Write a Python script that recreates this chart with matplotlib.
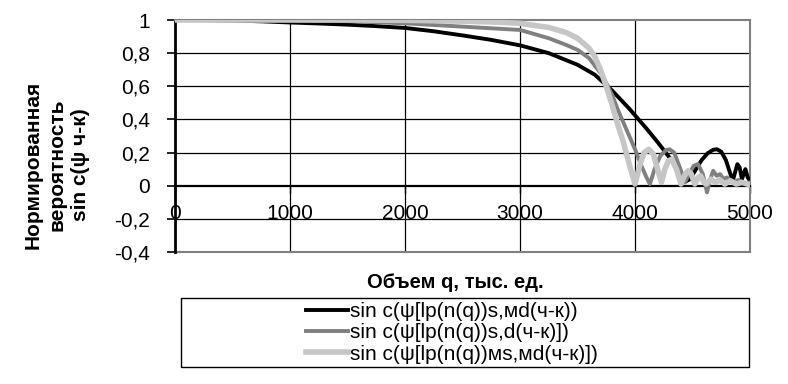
import matplotlib as mpl
mpl.use('Agg')
import matplotlib.pyplot as plt
from matplotlib.patches import Rectangle

plt.rcParams['font.family'] = ['Liberation Sans', 'DejaVu Sans']

# black series
q_black = [0, 250, 500, 750, 1000, 1250, 1500, 1750, 2000, 2250, 2500, 2750, 3000,
           3250, 3500, 3650, 3800, 3950, 4100, 4200, 4300, 4380, 4440, 4480, 4530,
           4580, 4630, 4680, 4713, 4750, 4790, 4830, 4850, 4870, 4890, 4910, 4930,
           4945, 4960, 4980, 5000]
v_black = [1.0, 0.999, 0.997, 0.992, 0.985, 0.979, 0.972, 0.963, 0.952, 0.932, 0.907, 0.88, 0.847,
           0.80, 0.73, 0.67, 0.575, 0.465, 0.345, 0.26, 0.17, 0.09, 0.025, 0.04, 0.10,
           0.155, 0.195, 0.217, 0.22, 0.205, 0.155, 0.07, 0.03, 0.08, 0.13, 0.11, 0.04,
           0.07, 0.10, 0.05, 0.03]

# gray series
q_gray = [0, 500, 1000, 1500, 2000, 2250, 2500, 2750, 3000, 3250, 3400, 3500, 3600,
          3700, 3750, 3800, 3850, 3900, 3950, 4000, 4050, 4100, 4130, 4170, 4220,
          4270, 4300, 4340, 4390, 4435, 4470, 4510, 4548, 4590, 4626, 4650, 4680,
          4710, 4740, 4770, 4800, 4850, 4900, 4950, 5000]
v_gray = [1.0, 1.0, 0.998, 0.993, 0.98, 0.97, 0.96, 0.95, 0.94, 0.89, 0.85, 0.82, 0.77,
          0.68, 0.62, 0.55, 0.46, 0.38, 0.30, 0.22, 0.13, 0.05, 0.01, 0.10, 0.18,
          0.215, 0.22, 0.20, 0.11, 0.02, 0.07, 0.12, 0.13, 0.07, -0.04, 0.03, 0.09,
          0.06, 0.07, 0.04, 0.05, 0.02, 0.035, 0.015, 0.02]

# light gray series
q_light = [0, 500, 1000, 1500, 2000, 2500, 2750, 3000, 3250, 3400, 3500, 3600, 3650,
           3700, 3750, 3800, 3850, 3900, 3950, 4000, 4040, 4080, 4120, 4160, 4200,
           4230, 4260, 4290, 4320, 4360, 4400, 4430, 4460, 4490, 4520, 4550, 4570,
           4600, 4620, 4660, 4700, 4740, 4780, 4830, 4880, 4930, 5000]
v_light = [1.0, 1.0, 1.0, 1.0, 0.998, 0.993, 0.988, 0.98, 0.955, 0.925, 0.89, 0.83, 0.78,
           0.70, 0.60, 0.49, 0.37, 0.26, 0.13, 0.01, 0.12, 0.20, 0.22, 0.19, 0.09,
           0.02, 0.10, 0.15, 0.16, 0.10, 0.01, 0.06, 0.09, 0.07, 0.01, 0.05, 0.06,
           0.02, 0.01, 0.04, 0.02, 0.035, 0.01, 0.03, 0.01, 0.02, 0.005]

labels = ['sin c(ψ[lp(n(q))s,мd(ч-к))',
          'sin c(ψ[lp(n(q))s,d(ч-к)])',
          'sin c(ψ[lp(n(q))мs,мd(ч-к)])']

x_ticks = [0, 1000, 2000, 3000, 4000, 5000]
y_ticks = [-0.4, -0.2, 0, 0.2, 0.4, 0.6, 0.8, 1]
y_labels = ['-0,4', '-0,2', '0', '0,2', '0,4', '0,6', '0,8', '1']

W, H = 788, 384
fig = plt.figure(figsize=(W / 100, H / 100), dpi=100)
ax = fig.add_axes([175 / W, 1 - 252 / H, (750 - 175) / W, (252 - 20) / H])

ax.set_xlim(0, 5000)
ax.set_ylim(-0.4, 1)

for yv in y_ticks[1:-1]:
    if yv != 0:
        ax.axhline(yv, color='black', lw=0.9, zorder=1)
for xv in x_ticks[1:-1]:
    ax.axvline(xv, color='black', lw=0.9, zorder=1)

l1, = ax.plot(q_black, v_black, color='black', lw=2.8, solid_joinstyle='round', zorder=3)
l2, = ax.plot(q_gray, v_gray, color='#808080', lw=2.8, solid_joinstyle='round', zorder=4)
l3, = ax.plot(q_light, v_light, color='#c6c6c6', lw=4, solid_joinstyle='round', zorder=5)

ax.spines['bottom'].set_position(('data', 0))
ax.spines['bottom'].set_color('black')
ax.spines['bottom'].set_linewidth(1.6)
ax.spines['left'].set_color('black')
ax.spines['left'].set_linewidth(2)
for s in ['top', 'right']:
    ax.spines[s].set_color('#808080')
    ax.spines[s].set_linewidth(1.5)
ax.axhline(-0.4, color='#808080', lw=1.5, clip_on=False, zorder=2)

ax.set_xticks(x_ticks)
ax.set_xticklabels([str(x) for x in x_ticks])
ax.set_yticks(y_ticks)
ax.set_yticklabels(y_labels)
ax.tick_params(axis='x', direction='out', length=5, width=1, pad=8, labelsize=15)
ax.tick_params(axis='y', direction='out', length=6, width=1.2, pad=12, labelsize=15)

fig.text(57 / W, 1 - 165 / H, 'Нормированная\nвероятность\nsin c(ψ ч-к)',
         rotation=90, ha='center', va='center', multialignment='center',
         fontsize=15, fontweight='bold', linespacing=1.3)
fig.text(455 / W, 1 - 283 / H, 'Объем q, тыс. ед.', ha='center', va='center',
         fontsize=14.5, fontweight='bold')

fig.patches.append(Rectangle((181 / W, 1 - 367 / H), (749 - 181) / W, (367 - 298) / H,
                             transform=fig.transFigure, fill=False, edgecolor='black', lw=1))
fig.legend([l1, l2, l3], labels, loc='center', frameon=False,
           bbox_to_anchor=(452 / W, 1 - 333 / H), fontsize=15,
           handlelength=2.0, handletextpad=0.1, labelspacing=0.1, borderpad=0)

fig.savefig('out.png', dpi=100)
